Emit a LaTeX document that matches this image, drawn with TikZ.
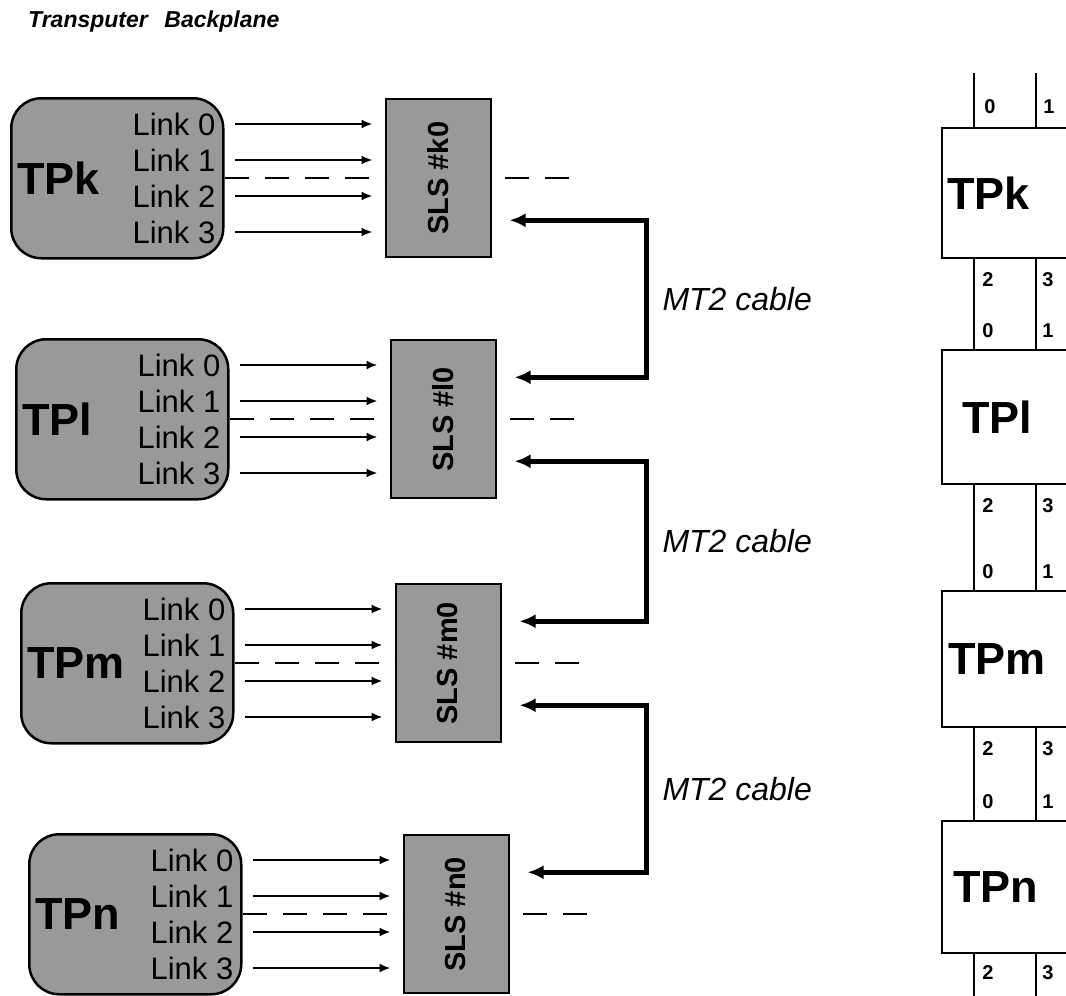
\documentclass[tikz,border=0pt]{standalone}
\usepackage{fontspec}
\setmainfont{Liberation Sans}
\usetikzlibrary{arrows.meta,positioning,calc,backgrounds}
\definecolor{Halftone}{gray}{0.6}
\newcommand{\pxfont}[1]{\fontsize{#1}{#1}\selectfont}

\begin{document}
\begin{tikzpicture}[x=1pt,y=-1pt,
  tpbox/.style={draw,line width=2.5pt,fill=Halftone,rounded corners=30pt,minimum width=212pt,minimum height=160pt,inner sep=0pt,anchor=north west},
  slsbox/.style={draw,line width=2pt,fill=Halftone,minimum width=105pt,minimum height=158pt,inner sep=0pt,font=\pxfont{29}\bfseries},
  tpname/.style={font=\pxfont{45}\bfseries,inner sep=0pt,anchor=west},
  linkname/.style={font=\pxfont{31},inner sep=0pt,anchor=east},
  link/.style={line width=2pt,-{Latex[length=11pt,width=9pt]},shorten <=10pt,shorten >=12pt},
  bus/.style={line width=2pt,dash pattern=on 24pt off 16pt},
  cable/.style={line width=5pt,{Latex[length=16pt,width=14pt]}-{Latex[length=16pt,width=14pt]}},
  cablename/.style={font=\pxfont{32}\itshape,inner sep=0pt},
  head/.style={font=\pxfont{23}\bfseries\itshape,inner sep=0pt},
  cell/.style={draw,line width=1.5pt,fill=white,minimum width=150pt,minimum height=#1,inner sep=0pt,anchor=north west},
  wire/.style={line width=1.5pt},
  digit/.style={font=\pxfont{20}\bfseries,inner sep=0pt}]
\useasboundingbox (0,0) rectangle (1066,996);
\clip (0,0) rectangle (1066,996);

\node[head] (hdtp) at (88,22) {Transputer};
\node[head] (hdbp) at (222,22) {Backplane};

\coordinate (cab) at (646,0);
\foreach \n/\x/\y in {k/10/97,l/15/338,m/20/582,n/28/833}{
  \node[tpbox] (tp\n) at (\x,\y) {};
  \node[tpname] (nm\n) at ([xshift=7pt]tp\n.west) {TP\n};
  \foreach \i in {0,...,3}
    \node[linkname] (lk\n\i) at ($(tp\n.north east)+(-9,27+36*\i)$) {Link \i};
  \node[slsbox,right=160pt of tp\n] (sls\n) {\rotatebox{90}{SLS \#\n0}};
  \foreach \i in {0,...,3}
    \draw[link] (tp\n.east |- lk\n\i.east) -- (sls\n.west |- lk\n\i.east);
  \coordinate[right=88pt of sls\n.east] (bus\n);
  \begin{scope}[on background layer]
    \draw[bus] (tp\n.east) -- (bus\n);
  \end{scope}
}

\foreach \a/\b in {k/l,l/m,m/n}
  \draw[cable] ($(sls\a.east)+(18,42)$) coordinate (up\a) -- (up\a -| cab)
    |- node[cablename,pos=0.25,right=14pt] (mt\a) {MT2 cable} ($(sls\b.east)+(18,-42)$);

\coordinate (pa) at (974,0);
\coordinate (pb) at (1036,0);
\coordinate (rtop) at (0,73);
\coordinate (rbot) at (0,996);
\foreach \n/\t/\h/\o in {k/127/130/6,l/349/134/21,m/590/136/7,n/820/132/12}{
  \node[cell=\h pt] (ce\n) at (941,\t) {};
  \node[tpname] (cn\n) at ([xshift=\o pt]ce\n.west) {TP\n};
}
\foreach \p in {pa,pb}{
  \draw[wire] (cek.north -| \p) -- (rtop -| \p);
  \draw[wire] (cen.south -| \p) -- (rbot -| \p);
  \foreach \a/\b in {k/l,l/m,m/n}
    \draw[wire] (ce\a.south -| \p) -- (ce\b.north -| \p);
}
\node[digit] (dk0) at ($(cek.north -| pa)+(16,-20)$) {0};
\node[digit] (dk1) at ($(cek.north -| pb)+(13,-20)$) {1};
\foreach \a/\b in {k/l,l/m,m/n}{
  \node[digit] (d\a2) at ($(ce\a.south -| pa)+(14,21)$) {2};
  \node[digit] (d\a3) at ($(ce\a.south -| pb)+(12,21)$) {3};
  \node[digit] (d\b0) at ($(ce\b.north -| pa)+(14,-18)$) {0};
  \node[digit] (d\b1) at ($(ce\b.north -| pb)+(12,-18)$) {1};
}
\node[digit] (dn2) at ($(cen.south -| pa)+(14,19)$) {2};
\node[digit] (dn3) at ($(cen.south -| pb)+(12,19)$) {3};
\end{tikzpicture}
\end{document}
